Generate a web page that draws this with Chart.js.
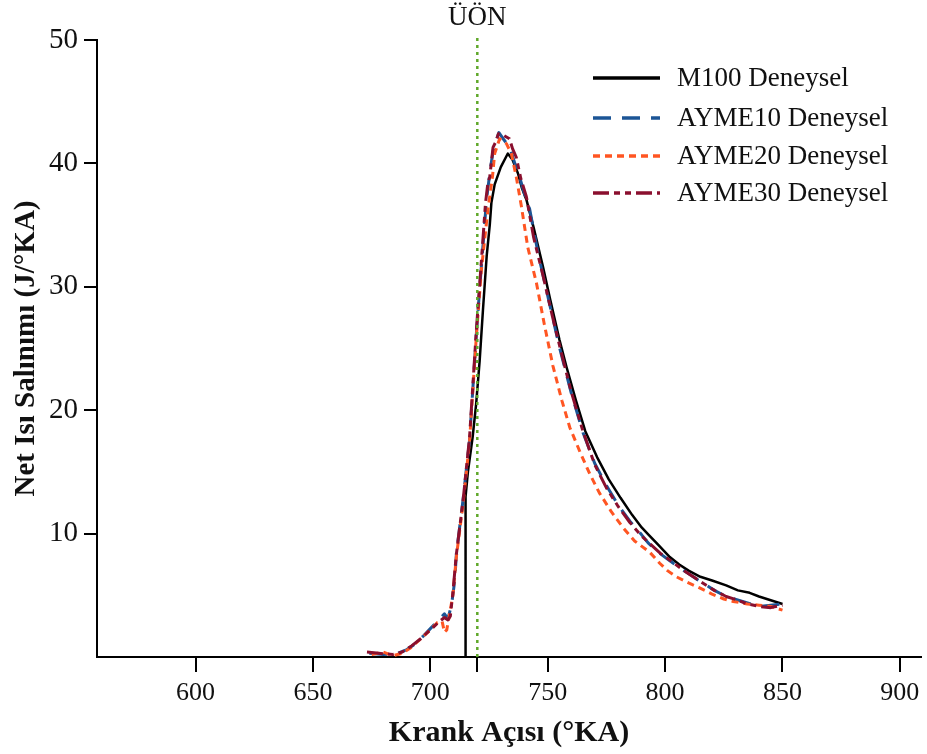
<!DOCTYPE html>
<html>
<head>
<meta charset="utf-8">
<script src="https://cdn.jsdelivr.net/npm/chart.js@4.4.1/dist/chart.umd.min.js"></script>
<style>
  html, body { margin: 0; padding: 0; background: #fff; }
  #wrap { width: 927px; height: 754px; position: relative; }
</style>
</head>
<body>
<div id="wrap"><canvas id="heat-release-chart"></canvas></div>
<script>
/**************************************************************
                     NET HEAT RELEASE CHART
***************************************************************/
let seriesLabels = ["M100 Deneysel", "AYME10 Deneysel", "AYME20 Deneysel", "AYME30 Deneysel"]
let xTickValues = [600, 650, 700, 720, 750, 800, 850, 900]
let yTickValues = [10, 20, 30, 40, 50]
let tdcAngle = 720
let tdcLabel = "ÜÖN"

let m100Angle = [715, 715, 716, 718, 719.5, 721, 722.4, 724, 725.3, 726, 727.4, 730, 733, 735, 737.3, 739, 741, 744, 748, 751, 755, 758, 762, 766, 771, 776, 781, 786, 790, 793, 797, 802, 806, 810, 815, 820, 826, 831, 836, 840, 845, 850]
let m100Heat = [0, 13, 15, 17.8, 20.5, 24, 28.1, 32.5, 35, 36.8, 38.3, 39.7, 40.8, 40.3, 39.2, 38, 37, 34.8, 31.6, 29, 25.7, 23.5, 20.8, 18.3, 16.2, 14.4, 12.9, 11.5, 10.5, 9.9, 9.1, 8.1, 7.5, 7.0, 6.5, 6.2, 5.8, 5.4, 5.2, 4.9, 4.6, 4.3]

let ayme10Angle = [674, 680, 686, 690, 693, 697, 700, 703, 706, 707.5, 709, 710.4, 711.1, 713.9, 716.7, 719.6, 721.7, 723.9, 725.5, 727, 729.2, 731, 733.8, 736, 738, 740, 742.3, 746, 750.8, 755, 760, 765, 770, 775, 780, 785, 790, 793, 797, 802, 808, 816, 821, 826, 833, 840, 845, 850]
let ayme10Heat = [0.3, 0.2, 0.3, 0.6, 1.0, 1.7, 2.3, 2.9, 3.5, 3.1, 4.2, 6.2, 8.4, 12.7, 17.6, 26.2, 31.6, 37, 39.5, 41.3, 42.5, 42, 41.3, 40, 38.9, 37.6, 36.3, 32.6, 28.6, 25.1, 21.4, 18.2, 15.7, 13.9, 12.3, 11.0, 9.9, 9.2, 8.5, 7.8, 7, 6, 5.4, 4.9, 4.5, 4.1, 4.2, 4.3]

let ayme20Angle = [675, 680, 684, 688, 692, 696, 700, 703, 705, 706, 707, 708, 709.6, 711, 714, 716.7, 719.6, 721.7, 723.5, 724.5, 726.5, 727.4, 729.5, 732.4, 734.5, 736.6, 738.8, 741.5, 745.2, 748.5, 752.2, 756, 759.4, 764, 768, 772, 777, 782, 787, 793.4, 797.7, 801, 804.8, 810, 814.7, 820, 825, 829, 835, 840, 845, 850]
let ayme20Heat = [0.2, 0.4, 0.1, 0.3, 0.8, 1.5, 2.2, 2.8, 2.9, 2.0, 2.2, 3.3, 5.0, 8.0, 12.5, 17.5, 26, 31.3, 34.5, 36.2, 39, 40.8, 42, 41.6, 40.8, 38.9, 36.5, 33.2, 30.3, 27, 23.6, 20.8, 18.6, 16.5, 14.8, 13.3, 11.8, 10.5, 9.4, 8.5, 7.6, 7.0, 6.5, 6, 5.6, 5.1, 4.7, 4.5, 4.3, 4.2, 4.1, 3.8]

let ayme30Angle = [673, 678, 684, 688, 692, 696, 700, 704, 706, 707.5, 708.5, 709.6, 711, 714, 716.7, 719.6, 721.7, 723.5, 724.5, 725.3, 726.7, 728, 729, 731, 733.7, 735, 736.6, 738.5, 740.9, 744, 748, 752, 756, 760, 765, 770, 775, 780, 785, 790, 793.4, 798, 802, 808, 812, 816, 821, 826, 831, 835, 840, 845, 850]
let ayme30Heat = [0.4, 0.3, 0.2, 0.4, 0.9, 1.5, 2.2, 2.9, 3.2, 3.0, 3.3, 5.2, 8.2, 12.8, 17.8, 26.5, 32, 36.8, 38.4, 38.9, 41.3, 41.8, 42.4, 42.3, 42, 41.2, 40.5, 38.8, 37.3, 34, 30.9, 27.6, 24.5, 21.5, 18.3, 15.6, 13.7, 12.2, 10.9, 9.8, 9.2, 8.4, 7.85, 7, 6.5, 6.0, 5.4, 4.9, 4.6, 4.3, 4.1, 4.0, 4.2]

let toPoints = (xs, ys) => xs.map((x, i) => ({x: x, y: ys[i]}))

let serifFont = "'Liberation Serif', 'Times New Roman', serif"

/*** legend drawn inside the plot, top right ***/
let insideLegend = {
    id: 'insideLegend',
    afterDatasetsDraw(chart) {
        let ctx = chart.ctx
        ctx.save()
        ctx.font = "27px " + serifFont
        ctx.textBaseline = 'middle'
        ctx.fillStyle = '#111'
        let rowsY = [78, 118, 156, 193]
        let legendSets = chart.data.datasets.filter(d => d.inLegend)
        legendSets.forEach((ds, i) => {
            let y = rowsY[i]
            ctx.strokeStyle = ds.borderColor
            ctx.lineWidth = 3.5
            ctx.setLineDash(ds.borderDash || [])
            ctx.beginPath()
            ctx.moveTo(593, y)
            ctx.lineTo(660, y)
            ctx.stroke()
            ctx.setLineDash([])
            ctx.fillText(ds.label, 677, y + 1)
        })
        ctx.restore()
    }
}

/*** TDC label above the dotted line ***/
let tdcText = {
    id: 'tdcText',
    afterDraw(chart) {
        let ctx = chart.ctx
        let x = chart.scales.x.getPixelForValue(tdcAngle)
        ctx.save()
        ctx.font = "27px " + serifFont
        ctx.fillStyle = '#111'
        ctx.textAlign = 'center'
        ctx.textBaseline = 'middle'
        ctx.fillText(tdcLabel, x, 18)
        ctx.restore()
    }
}

let heatCanvas = document.getElementById("heat-release-chart").getContext('2d');
let heatConfig = {
    type: 'line',
    data: {
        datasets: [
            {
                label: seriesLabels[0], inLegend: true,
                data: toPoints(m100Angle, m100Heat),
                borderColor: '#000000', borderWidth: 2.5, order: 4
            },
            {
                label: seriesLabels[1], inLegend: true,
                data: toPoints(ayme10Angle, ayme10Heat),
                borderColor: '#1c5596', borderWidth: 3, borderDash: [18, 11], order: 3
            },
            {
                label: seriesLabels[2], inLegend: true,
                data: toPoints(ayme20Angle, ayme20Heat),
                borderColor: '#ff5522', borderWidth: 3, borderDash: [7, 5], order: 2
            },
            {
                label: seriesLabels[3], inLegend: true,
                data: toPoints(ayme30Angle, ayme30Heat),
                borderColor: '#8a0f2e', borderWidth: 3, borderDash: [16, 5, 6, 5, 6, 5], order: 1
            },
            {
                label: tdcLabel, inLegend: false,
                data: [{x: tdcAngle, y: 0}, {x: tdcAngle, y: 50.25}],
                borderColor: '#5fa82a', borderWidth: 2.5, borderDash: [3, 4], clip: false, order: 0
            }
        ]
    },
    options: {
        responsive: false,
        animation: false,
        parsing: true,
        elements: {
            point: { radius: 0 },
            line: { tension: 0, borderCapStyle: 'butt', borderJoinStyle: 'round' }
        },
        layout: { padding: { top: 40, right: 6, left: 0, bottom: 0 } },
        plugins: {
            legend: { display: false },
            tooltip: { enabled: false }
        },
        scales: {
            x: {
                type: 'linear',
                min: 558, max: 909,
                afterBuildTicks: (scale) => { scale.ticks = xTickValues.map(v => ({value: v})) },
                afterFit: (scale) => { scale.height = 97 },
                grid: { drawOnChartArea: false, drawTicks: true, tickLength: 15, color: '#000', lineWidth: 2 },
                border: { display: true, color: '#000', width: 2 },
                ticks: {
                    color: '#111', padding: 6, maxRotation: 0,
                    font: { family: serifFont, size: 26 },
                    callback: (v) => v === tdcAngle ? '' : v
                },
                title: {
                    display: true, text: 'Krank Açısı (°KA)', color: '#111',
                    font: { family: serifFont, size: 30, weight: 'bold' },
                    padding: { top: 0, bottom: 3 }
                }
            },
            y: {
                type: 'linear',
                min: 0, max: 50,
                afterBuildTicks: (scale) => { scale.ticks = yTickValues.map(v => ({value: v})) },
                afterFit: (scale) => { scale.width = 97 },
                grid: { drawOnChartArea: false, drawTicks: true, tickLength: 13, color: '#000', lineWidth: 2 },
                border: { display: true, color: '#000', width: 2 },
                ticks: {
                    color: '#111', padding: 6,
                    font: { family: serifFont, size: 29 }
                },
                title: {
                    display: true, text: 'Net Isı Salınımı (J/°KA)', color: '#111',
                    font: { family: serifFont, size: 29, weight: 'bold' },
                    padding: { top: 9, bottom: 0 }
                }
            }
        }
    },
    plugins: [insideLegend, tdcText]
}

/*** Create chart using heat release canvas and config ***/
let canvasEl = document.getElementById("heat-release-chart")
canvasEl.width = 927
canvasEl.height = 754
let heatChart = new Chart(heatCanvas, heatConfig);
</script>
</body>
</html>
